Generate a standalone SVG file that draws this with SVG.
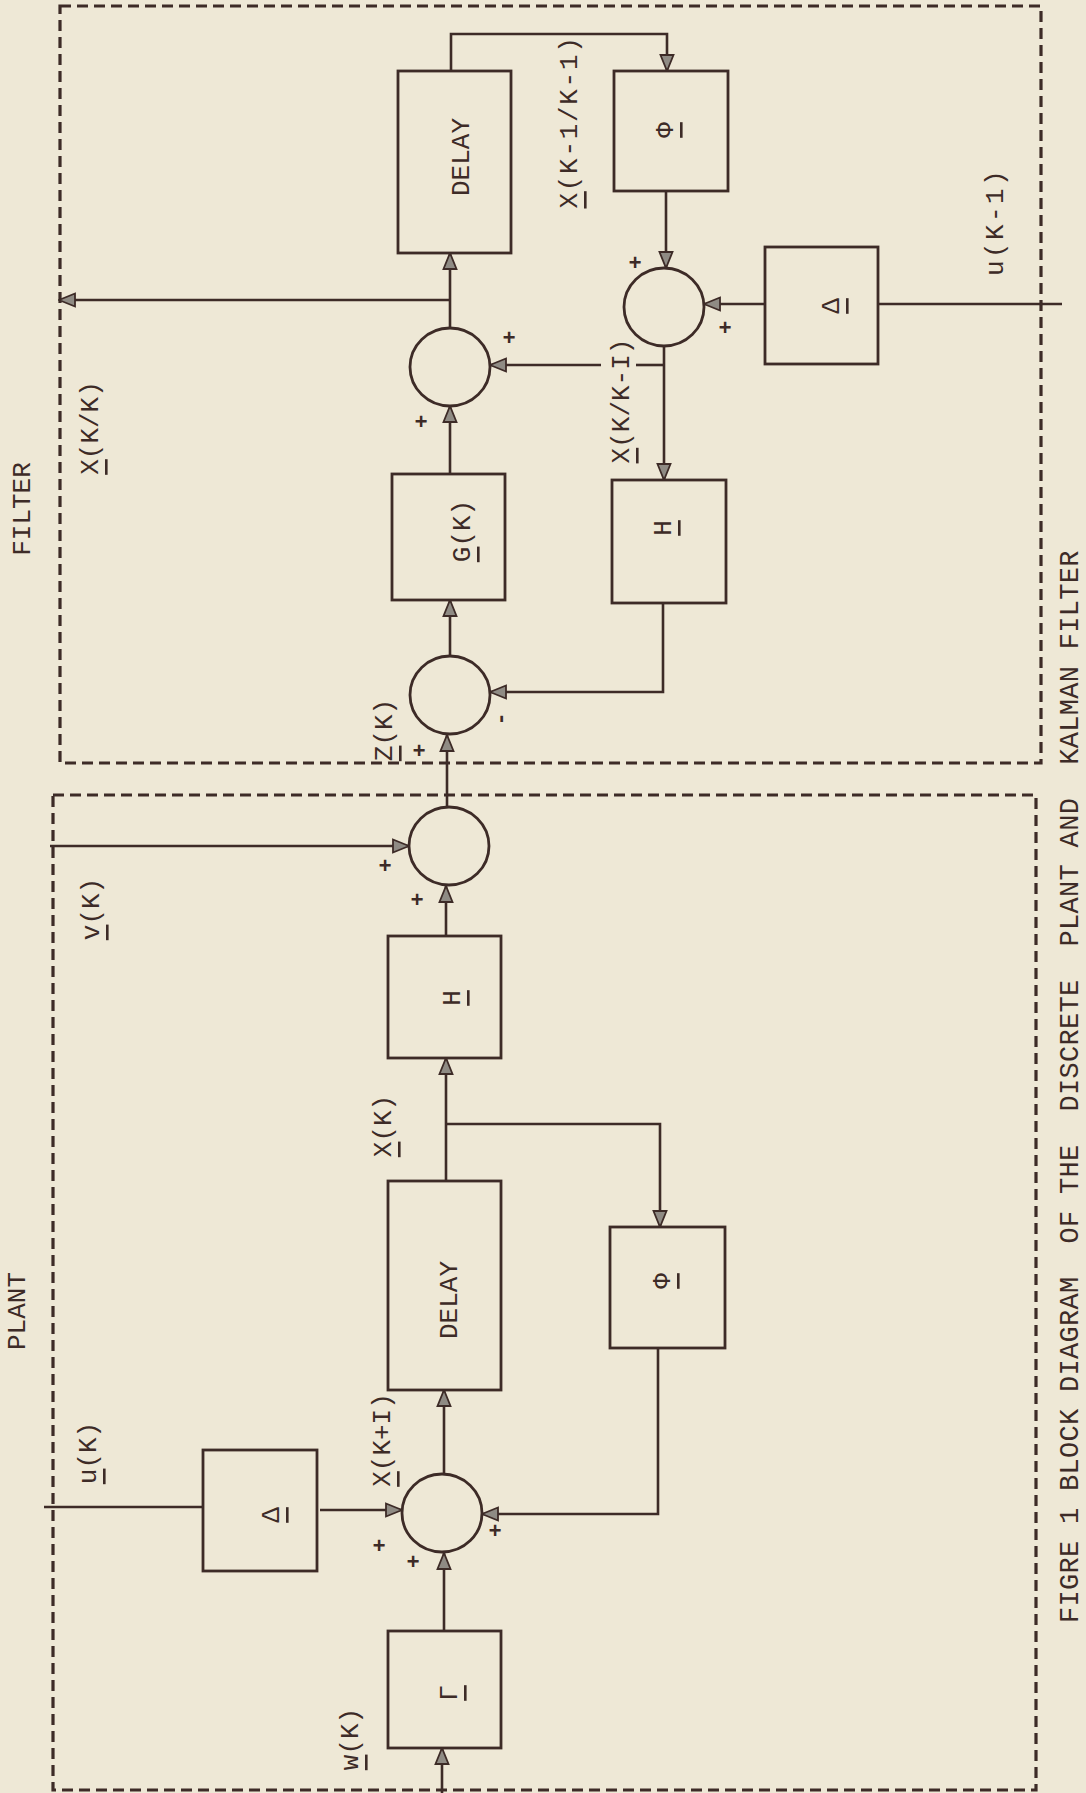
<svg xmlns="http://www.w3.org/2000/svg" width="1086" height="1793" viewBox="0 0 1086 1793">
<style>
.bg{fill:#eee8d6}
.dash{fill:none;stroke:#3d2b27;stroke-width:3.2;stroke-dasharray:11 6}
.box{fill:none;stroke:#3d2b27;stroke-width:2.8}
.sum{fill:none;stroke:#3d2b27;stroke-width:2.8}
.w{fill:none;stroke:#3d2b27;stroke-width:2.6}
.a{marker-end:url(#arr)}
text{font-family:"Liberation Mono","DejaVu Sans Mono",monospace;fill:#3d2b27;font-size:26px}
.u{text-decoration:underline}
.s{font-size:22px;font-weight:bold}
</style>
<defs>
<marker id="arr" viewBox="0 0 18 16" refX="17" refY="8" markerWidth="18" markerHeight="16" markerUnits="userSpaceOnUse" orient="auto">
<path d="M1,1.5 L17,8 L1,14.5 Z" fill="#8f8b84" stroke="#3d2b27" stroke-width="1.8"/>
</marker>
</defs>
<rect class="bg" x="0" y="0" width="1086" height="1793"/>

<g id="frames">
<rect id="filter-frame" class="dash" x="60" y="6" width="981" height="757"/>
<rect id="plant-frame" class="dash" x="53" y="795" width="983" height="995"/>
<text transform="translate(23,509) rotate(-90)" text-anchor="middle" dominant-baseline="central">FILTER</text>
<text transform="translate(18,1311) rotate(-90)" text-anchor="middle" dominant-baseline="central">PLANT</text>
</g>

<g id="connectors">
<path class="w a" d="M450,300 H59"/>
<path class="w a" d="M450,328 V253"/>
<path class="w a" d="M451,71 V34 H667 V71"/>
<path class="w a" d="M666,191 V268"/>
<path class="w a" d="M765,304 H704"/>
<path class="w" d="M1062,304 H878"/>
<path class="w a" d="M664,346 V480"/>
<path class="w" d="M664,365 H636"/>
<path class="w a" d="M601,365 H490"/>
<path class="w a" d="M450,474 V406"/>
<path class="w a" d="M450,656 V600"/>
<path class="w a" d="M663,603 V692 H490"/>
<path class="w a" d="M447,806 V735"/>
<path class="w a" d="M50,846 H409"/>
<path class="w a" d="M446,936 V886"/>
<path class="w a" d="M446,1181 V1058"/>
<path class="w a" d="M446,1124 H660 V1227"/>
<path class="w a" d="M658,1348 V1514 H482"/>
<path class="w a" d="M320,1510 H402"/>
<path class="w" d="M44,1507 H203"/>
<path class="w a" d="M444,1474 V1390"/>
<path class="w a" d="M444,1631 V1553"/>
<path class="w a" d="M442,1793 V1748"/>
</g>

<g id="labels">
<text transform="translate(91,428) rotate(-90)" text-anchor="middle" dominant-baseline="central"><tspan class="u">X</tspan>(K/K)</text>
<text transform="translate(570,122) rotate(-90)" text-anchor="middle" dominant-baseline="central" style="letter-spacing:1.7px"><tspan class="u">X</tspan>(K-1/K-1)</text>
<text transform="translate(996,222) rotate(-90)" text-anchor="middle" dominant-baseline="central" style="letter-spacing:2.4px">u(K-1)</text>
<text transform="translate(622,401) rotate(-90)" text-anchor="middle" dominant-baseline="central"><tspan class="u">X</tspan>(K/K-I)</text>
<text transform="translate(385,730) rotate(-90)" text-anchor="middle" dominant-baseline="central"><tspan class="u">Z</tspan>(K)</text>
<text transform="translate(92,909) rotate(-90)" text-anchor="middle" dominant-baseline="central"><tspan class="u">v</tspan>(K)</text>
<text transform="translate(384,1126) rotate(-90)" text-anchor="middle" dominant-baseline="central"><tspan class="u">X</tspan>(K)</text>
<text transform="translate(383,1440) rotate(-90)" text-anchor="middle" dominant-baseline="central"><tspan class="u">X</tspan>(K+I)</text>
<text transform="translate(89,1453) rotate(-90)" text-anchor="middle" dominant-baseline="central"><tspan class="u">u</tspan>(K)</text>
<text transform="translate(351,1739) rotate(-90)" text-anchor="middle" dominant-baseline="central"><tspan class="u">w</tspan>(K)</text>
<text xml:space="preserve" transform="translate(1071,1623) rotate(-90)" dominant-baseline="central" style="font-size:27px;letter-spacing:0.3px">FIGRE 1 BLOCK DIAGRAM  OF THE  DISCRETE  PLANT AND  KALMAN FILTER</text>
</g>

<g id="delay-filter"><rect class="box" x="398" y="71" width="113" height="182"/><text transform="translate(462,157) rotate(-90)" text-anchor="middle" dominant-baseline="central">DELAY</text></g>
<g id="sum-filter-update"><ellipse class="sum" cx="450" cy="367" rx="40" ry="39"/><text class="s" x="509" y="339" text-anchor="middle" dominant-baseline="central">+</text><text class="s" x="421" y="423" text-anchor="middle" dominant-baseline="central">+</text></g>
<g id="gain"><rect class="box" x="392" y="474" width="113" height="126"/><text transform="translate(463,531) rotate(-90)" text-anchor="middle" dominant-baseline="central"><tspan class="u">G</tspan>(K)</text></g>
<g id="sum-filter-residual"><ellipse class="sum" cx="450" cy="695" rx="40" ry="39"/><text class="s" transform="translate(501,719) rotate(-90)" text-anchor="middle" dominant-baseline="central">-</text><text class="s" x="419" y="752" text-anchor="middle" dominant-baseline="central">+</text></g>
<g id="phi-filter"><rect class="box" x="614" y="71" width="114" height="120"/><text transform="translate(666,130) rotate(-90)" text-anchor="middle" dominant-baseline="central"><tspan class="u">Φ</tspan></text></g>
<g id="sum-filter-predict"><ellipse class="sum" cx="664" cy="307" rx="40" ry="39"/><text class="s" x="635" y="264" text-anchor="middle" dominant-baseline="central">+</text><text class="s" x="725" y="329" text-anchor="middle" dominant-baseline="central">+</text></g>
<g id="delta-filter"><rect class="box" x="765" y="247" width="113" height="117"/><text transform="translate(832,306) rotate(-90)" text-anchor="middle" dominant-baseline="central"><tspan class="u">Δ</tspan></text></g>
<g id="h-filter"><rect class="box" x="612" y="480" width="114" height="123"/><text transform="translate(664,528) rotate(-90)" text-anchor="middle" dominant-baseline="central"><tspan class="u">H</tspan></text></g>

<g id="sum-plant-measure"><ellipse class="sum" cx="449" cy="846" rx="40" ry="39"/><text class="s" x="385" y="867" text-anchor="middle" dominant-baseline="central">+</text><text class="s" x="417" y="901" text-anchor="middle" dominant-baseline="central">+</text></g>
<g id="h-plant"><rect class="box" x="388" y="936" width="113" height="122"/><text transform="translate(453,998) rotate(-90)" text-anchor="middle" dominant-baseline="central"><tspan class="u">H</tspan></text></g>
<g id="delay-plant"><rect class="box" x="388" y="1181" width="113" height="209"/><text transform="translate(450,1300) rotate(-90)" text-anchor="middle" dominant-baseline="central">DELAY</text></g>
<g id="phi-plant"><rect class="box" x="610" y="1227" width="115" height="121"/><text transform="translate(663,1281) rotate(-90)" text-anchor="middle" dominant-baseline="central"><tspan class="u">Φ</tspan></text></g>
<g id="sum-plant-state"><ellipse class="sum" cx="442" cy="1513" rx="40" ry="39"/><text class="s" x="379" y="1547" text-anchor="middle" dominant-baseline="central">+</text><text class="s" x="413" y="1563" text-anchor="middle" dominant-baseline="central">+</text><text class="s" x="495" y="1532" text-anchor="middle" dominant-baseline="central">+</text></g>
<g id="delta-plant"><rect class="box" x="203" y="1450" width="114" height="121"/><text transform="translate(272,1515) rotate(-90)" text-anchor="middle" dominant-baseline="central"><tspan class="u">Δ</tspan></text></g>
<g id="gamma"><rect class="box" x="388" y="1631" width="113" height="117"/><text transform="translate(450,1693) rotate(-90)" text-anchor="middle" dominant-baseline="central"><tspan class="u">Γ</tspan></text></g>
</svg>
